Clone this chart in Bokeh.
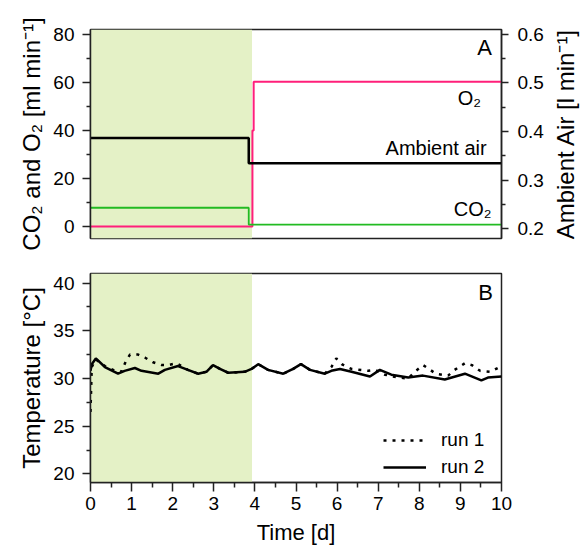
import math
from bokeh.plotting import figure
from bokeh.models import (Range1d, LinearAxis, FixedTicker, BoxAnnotation, Label,
                          Legend, LegendItem)
from bokeh.layouts import column, row
from bokeh.embed import file_html
from bokeh.resources import INLINE

# ---------------- data ----------------
phase_start = 0.0
phase_end = 3.93

# Panel A (step series)
time_air = [0, 3.85, 10]
ambient_air = [0.387, 0.335, 0.335]          # l/min (right axis)
time_co2 = [0, 3.85, 10]
co2_flow = [7.8, 0.8, 0.8]                   # ml/min
time_o2 = [0, 3.94, 3.97, 10]
o2_flow = [0, 40, 60.2, 60.2]                # ml/min

# Panel B (temperature)
t_run1 = [0, 0.03, 0.13, 0.35, 0.6, 0.75, 0.86, 0.96, 1.16, 1.32, 1.52, 1.73, 1.89,
          2.09, 2.21, 2.37, 2.62, 2.82, 2.98, 3.15, 3.35, 3.75, 3.92, 4.08, 4.32,
          4.69, 4.93, 5.12, 5.34, 5.7, 5.86, 5.98, 6.11, 6.2, 6.35, 6.76, 6.92,
          7.16, 7.48, 7.73, 7.89, 8.09, 8.2, 8.4, 8.7, 8.86, 9.11, 9.28, 9.48,
          9.73, 9.91, 10]
temp_run1 = [26.5, 31.2, 32.0, 31.3, 30.8, 30.7, 31.8, 32.5, 32.5, 32.2, 31.7, 31.4,
             31.4, 31.6, 31.3, 30.9, 30.5, 30.7, 31.4, 31.0, 30.6, 30.7, 31.0, 31.5,
             30.9, 30.5, 31.0, 31.5, 30.9, 30.5, 31.2, 32.1, 31.5, 31.3, 31.0, 30.8,
             30.9, 30.4, 30.1, 30.0, 30.7, 31.4, 31.1, 30.5, 30.3, 30.9, 31.6, 31.4,
             30.8, 30.7, 31.1, 31.0]
t_run2 = [0, 0.03, 0.13, 0.35, 0.67, 0.83, 1.08, 1.24, 1.65, 1.81, 2.13, 2.37, 2.62,
          2.82, 2.98, 3.15, 3.35, 3.75, 3.92, 4.08, 4.32, 4.69, 4.93, 5.12, 5.34,
          5.7, 5.86, 6.07, 6.35, 6.8, 7.04, 7.32, 7.73, 8.09, 8.62, 9.11, 9.51,
          9.67, 10]
temp_run2 = [30.8, 31.5, 32.1, 31.2, 30.5, 30.8, 31.1, 30.8, 30.5, 30.9, 31.3, 30.9,
             30.5, 30.7, 31.4, 31.0, 30.6, 30.7, 31.0, 31.5, 30.9, 30.5, 31.0, 31.5,
             30.9, 30.5, 30.8, 31.0, 30.7, 30.2, 30.9, 30.4, 30.1, 30.3, 29.9, 30.5,
             29.8, 30.1, 30.2]

# ticks
x_ticks = list(range(0, 11))
x_minor = [i + 0.5 for i in range(10)]
a_left_ticks = [0, 20, 40, 60, 80]
a_left_minor = [10, 30, 50, 70]
a_right_ticks = [0.2, 0.3, 0.4, 0.5, 0.6]
a_right_minor = [0.25, 0.35, 0.45, 0.55]
b_left_ticks = [20, 25, 30, 35, 40]
b_left_minor = [22.5, 27.5, 32.5, 37.5]

# ---------------- style ----------------
FONT = "Liberation Sans"
PINK = "#ff1f7a"
GREEN = "#22bb22"
SHADE = "#e4f1c6"
FRAME = "#222222"


def style_axis(ax, major_out=8, minor_out=4):
    ax.axis_line_color = FRAME
    ax.axis_line_width = 1.5
    ax.major_tick_line_color = FRAME
    ax.minor_tick_line_color = FRAME
    ax.major_tick_line_width = 1.5
    ax.minor_tick_line_width = 1.5
    ax.major_tick_in = 0
    ax.minor_tick_in = 0
    ax.major_tick_out = major_out
    ax.minor_tick_out = minor_out
    ax.major_label_text_font = FONT
    ax.major_label_text_font_size = "19px"
    ax.major_label_text_color = "black"
    ax.axis_label_text_font = FONT
    ax.axis_label_text_font_size = "24px"
    ax.axis_label_text_font_style = "normal"
    ax.axis_label_text_color = "black"


# ---------------- panel A ----------------
p1 = figure(width=546, height=253, x_range=Range1d(0, 10), y_range=Range1d(-5, 82),
            min_border_left=90, min_border_right=45,
            min_border_top=29, min_border_bottom=15,
            output_backend="svg", toolbar_location=None)
p1.extra_y_ranges = {"air": Range1d(0.18, 0.61)}
p1.xaxis.visible = False
p1.grid.visible = False
p1.outline_line_color = FRAME
p1.outline_line_width = 1.5
p1.outline_line_alpha = 1

p1.add_layout(BoxAnnotation(left=phase_start, right=phase_end, fill_color=SHADE,
                            fill_alpha=1, line_alpha=0, level="underlay"))

p1.step(time_o2, o2_flow, mode="after", line_color=PINK, line_width=2)
p1.step(time_co2, co2_flow, mode="after", line_color=GREEN, line_width=1.8)
p1.step(time_air, ambient_air, mode="after", line_color="black", line_width=2.5,
        y_range_name="air")

ly = p1.yaxis[0]
ly.ticker = FixedTicker(ticks=a_left_ticks, minor_ticks=a_left_minor)
ly.axis_label = "CO\u2082 and O\u2082 [ml min\u207b\u00b9]"
style_axis(ly)
ly.major_label_standoff = 8
ly.axis_label_standoff = 5

ry = LinearAxis(y_range_name="air",
                ticker=FixedTicker(ticks=a_right_ticks, minor_ticks=a_right_minor))
style_axis(ry, major_out=7, minor_out=4)
ry.major_label_standoff = 9
p1.add_layout(ry, "right")

lab_kw = dict(text_font=FONT, text_font_size="20px", text_color="black",
              text_align="right", text_baseline="middle")
p1.add_layout(Label(x=9.5, y=53.5, text="O\u2082", **lab_kw))
p1.add_layout(Label(x=9.64, y=32.7, text="Ambient air", **lab_kw))
p1.add_layout(Label(x=9.76, y=7.4, text="CO\u2082", **lab_kw))
p1.add_layout(Label(x=9.77, y=74.5, text="A", text_font=FONT, text_font_size="22px",
                    text_color="black", text_align="right", text_baseline="middle"))

# narrow companion figure that only carries the right-hand axis title
pt = figure(width=34, height=253, x_range=Range1d(0, 1), y_range=Range1d(0.18, 0.61),
            min_border_left=32, min_border_right=0,
            min_border_top=29, min_border_bottom=15,
            output_backend="svg", toolbar_location=None)
pt.xaxis.visible = False
pt.grid.visible = False
pt.outline_line_alpha = 0
ta = pt.yaxis[0]
ta.ticker = FixedTicker(ticks=[0.4])
ta.major_label_overrides = {0.4: ""}
ta.axis_line_alpha = 0
ta.major_tick_line_alpha = 0
ta.minor_tick_line_alpha = 0
ta.major_tick_out = 0
ta.minor_tick_out = 0
ta.axis_label = "Ambient Air [l min\u207b\u00b9]"
ta.axis_label_text_font = FONT
ta.axis_label_text_font_size = "24px"
ta.axis_label_text_font_style = "normal"
ta.axis_label_text_color = "black"
ta.axis_label_standoff = 0
ta.major_label_standoff = 0

# ---------------- panel B ----------------
p2 = figure(width=580, height=300, x_range=p1.x_range, y_range=Range1d(19.1, 41),
            min_border_left=90, min_border_right=79,
            min_border_top=20, min_border_bottom=71,
            output_backend="svg", toolbar_location=None)
p2.grid.visible = False
p2.outline_line_color = FRAME
p2.outline_line_width = 1.5
p2.outline_line_alpha = 1

p2.add_layout(BoxAnnotation(left=phase_start, right=phase_end, fill_color=SHADE,
                            fill_alpha=1, line_alpha=0, level="underlay"))

r1 = p2.line(t_run1, temp_run1, line_color="black", line_width=2.5, line_dash="3 6")
r2 = p2.line(t_run2, temp_run2, line_color="black", line_width=2.5)

bx = p2.xaxis[0]
bx.ticker = FixedTicker(ticks=x_ticks, minor_ticks=x_minor)
bx.axis_label = "Time [d]"
style_axis(bx, major_out=9, minor_out=5)
bx.axis_label_text_font_size = "22px"
bx.major_label_standoff = 5
bx.axis_label_standoff = 7

by = p2.yaxis[0]
by.ticker = FixedTicker(ticks=b_left_ticks, minor_ticks=b_left_minor)
by.axis_label = "Temperature [\u00b0C]"
style_axis(by)
by.major_label_standoff = 8
by.axis_label_standoff = 5

p2.add_layout(Label(x=9.79, y=39.0, text="B", text_font=FONT, text_font_size="22px",
                    text_color="black", text_align="right", text_baseline="middle"))

legend = Legend(items=[LegendItem(label="run 1", renderers=[r1]),
                       LegendItem(label="run 2", renderers=[r2])],
                location=(293, 4), padding=0, margin=0, spacing=5,
                glyph_width=43, glyph_height=20, label_height=20,
                label_standoff=15, background_fill_alpha=0, border_line_alpha=0,
                label_text_font=FONT, label_text_font_size="19px",
                label_text_color="black")
p2.add_layout(legend)

layout = column(row(p1, pt, spacing=0), p2, spacing=0)
open("out.html", "w").write(file_html(layout, INLINE))
